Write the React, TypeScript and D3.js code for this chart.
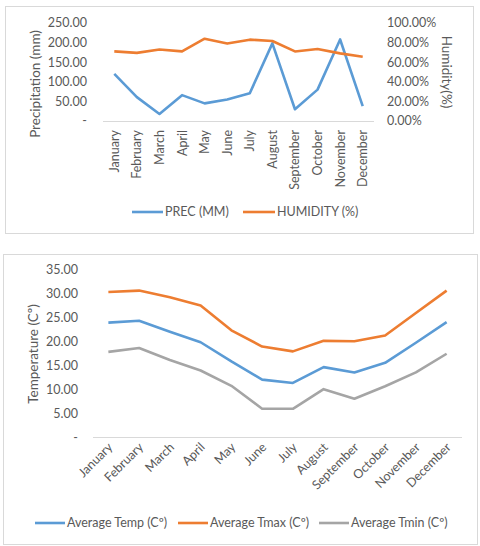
import React from "react";
import * as d3 from "d3";

const months = [
  "January", "February", "March", "April", "May", "June",
  "July", "August", "September", "October", "November", "December",
];

// Monthly precipitation (mm) and relative humidity (fraction)
const precipitation = [120, 61, 18, 66, 45, 55, 71, 198, 30, 80, 208, 38];
const humidity = [0.71, 0.695, 0.73, 0.71, 0.84, 0.79, 0.83, 0.816, 0.71, 0.735, 0.69, 0.656];

// Monthly temperatures (Cº)
const avgTemp = [24.0, 24.4, 22.1, 19.9, 15.9, 12.1, 11.4, 14.7, 13.6, 15.6, 19.8, 24.1];
const avgTmax = [30.4, 30.7, 29.3, 27.6, 22.4, 19.0, 18.0, 20.2, 20.1, 21.3, 26.0, 30.7];
const avgTmin = [17.9, 18.7, 16.2, 14.0, 10.8, 6.0, 6.0, 10.1, 8.1, 10.7, 13.6, 17.5];

const precipTicks = [0, 50, 100, 150, 200, 250];
const humidityTicks = [0, 0.2, 0.4, 0.6, 0.8, 1.0];
const tempTicks = [0, 5, 10, 15, 20, 25, 30, 35];

const BLUE = "#5b9bd5";
const ORANGE = "#ed7d31";
const GRAY = "#a5a5a5";
const TEXT = "#595959";
const AXIS = "#d9d9d9";
const FONT = "Lato, 'Open Sans', sans-serif";

const fmt2 = d3.format(".2f");
const fmtPct = d3.format(".2%");
const numLabel = (v: number) => (v === 0 ? "-" : fmt2(v));

export default function App() {
  // ---- Precipitation / humidity chart ----
  const x1 = d3.scaleBand<string>().domain(months).range([103, 374]);
  const cx1 = (m: string) => (x1(m) ?? 0) + x1.bandwidth() / 2;
  const yP = d3.scaleLinear().domain([0, 250]).range([121, 23]);
  const yH = d3.scaleLinear().domain([0, 1]).range([121, 23]);

  const precLine = d3
    .line<number>()
    .x((_, i) => cx1(months[i]))
    .y((d) => yP(d));
  const humLine = d3
    .line<number>()
    .x((_, i) => cx1(months[i]))
    .y((d) => yH(d));

  // ---- Temperature chart ----
  const x2 = d3.scaleBand<string>().domain(months).range([93, 462]);
  const cx2 = (m: string) => (x2(m) ?? 0) + x2.bandwidth() / 2;
  const yT = d3.scaleLinear().domain([0, 35]).range([437.5, 270]);
  const tLine = d3
    .line<number>()
    .x((_, i) => cx2(months[i]))
    .y((d) => yT(d));

  const tempSeries = [
    { name: "Average Temp (Cº)", values: avgTemp, color: BLUE, lx: 35 },
    { name: "Average Tmax (Cº)", values: avgTmax, color: ORANGE, lx: 178 },
    { name: "Average Tmin (Cº)", values: avgTmin, color: GRAY, lx: 319 },
  ];

  return (
    <svg
      width={480}
      height={546}
      style={{ position: "absolute", left: 0, top: 0, background: "#fff" }}
      fontFamily={FONT}
    >
      <rect width={480} height={546} fill="#fff" />

      {/* Chart 1 frame */}
      <rect x={5.5} y={6.5} width={468} height={227} fill="#fff" stroke={AXIS} />

      {/* left axis ticks */}
      {precipTicks.map((t) => (
        <text key={"p" + t} x={87} y={yP(t)} dy="0.35em" textAnchor="end" fontSize={12.5} fill={TEXT}>
          {numLabel(t)}
        </text>
      ))}
      {/* right axis ticks */}
      {humidityTicks.map((t) => (
        <text key={"h" + t} x={387} y={yH(t)} dy="0.35em" fontSize={12.5} fill={TEXT}>
          {fmtPct(t)}
        </text>
      ))}

      <line x1={103} x2={374} y1={121.5} y2={121.5} stroke={AXIS} strokeWidth={1} />

      <path d={precLine(precipitation) ?? ""} fill="none" stroke={BLUE} strokeWidth={2.6} strokeLinejoin="round" />
      <path d={humLine(humidity) ?? ""} fill="none" stroke={ORANGE} strokeWidth={2.6} strokeLinejoin="round" />

      {months.map((m) => (
        <text
          key={"m1" + m}
          transform={`translate(${cx1(m) + 4.5},130) rotate(-90)`}
          textAnchor="end"
          fontSize={12.5}
          fill={TEXT}
        >
          {m}
        </text>
      ))}

      <text transform="translate(40,84) rotate(-90)" textAnchor="middle" fontSize={13.5} fill={TEXT}>
        Precipitation (mm)
      </text>
      <text transform="translate(442,72) rotate(90)" textAnchor="middle" fontSize={13.5} fill={TEXT}>
        Humidity(%)
      </text>

      {/* legend 1 */}
      <line x1={132} x2={163} y1={212} y2={212} stroke={BLUE} strokeWidth={2.6} />
      <text x={165} y={212} dy="0.35em" fontSize={12.5} fill={TEXT}>PREC (MM)</text>
      <line x1={243} x2={275} y1={212} y2={212} stroke={ORANGE} strokeWidth={2.6} />
      <text x={277} y={212} dy="0.35em" fontSize={12.5} fill={TEXT}>HUMIDITY (%)</text>

      {/* Chart 2 frame */}
      <rect x={3.5} y={254.5} width={474} height={290} fill="#fff" stroke={AXIS} />

      {tempTicks.map((t) => (
        <text key={"t" + t} x={78} y={yT(t)} dy="0.35em" textAnchor="end" fontSize={12.5} fill={TEXT}>
          {numLabel(t)}
        </text>
      ))}

      <line x1={93} x2={462} y1={437.5} y2={437.5} stroke={AXIS} strokeWidth={1} />

      {tempSeries.map((s) => (
        <path
          key={s.name}
          d={tLine(s.values) ?? ""}
          fill="none"
          stroke={s.color}
          strokeWidth={2.6}
          strokeLinejoin="round"
        />
      ))}

      {months.map((m) => (
        <text
          key={"m2" + m}
          transform={`translate(${cx2(m) + 5},448) rotate(-45)`}
          textAnchor="end"
          fontSize={12.5}
          fill={TEXT}
        >
          {m}
        </text>
      ))}

      <text transform="translate(38,354) rotate(-90)" textAnchor="middle" fontSize={13.5} fill={TEXT}>
        Temperature (Cº)
      </text>

      {tempSeries.map((s) => (
        <g key={"lg" + s.name}>
          <line x1={s.lx} x2={s.lx + 30} y1={523} y2={523} stroke={s.color} strokeWidth={2.6} />
          <text x={s.lx + 32} y={523} dy="0.35em" fontSize={12.5} fill={TEXT}>
            {s.name}
          </text>
        </g>
      ))}
    </svg>
  );
}
